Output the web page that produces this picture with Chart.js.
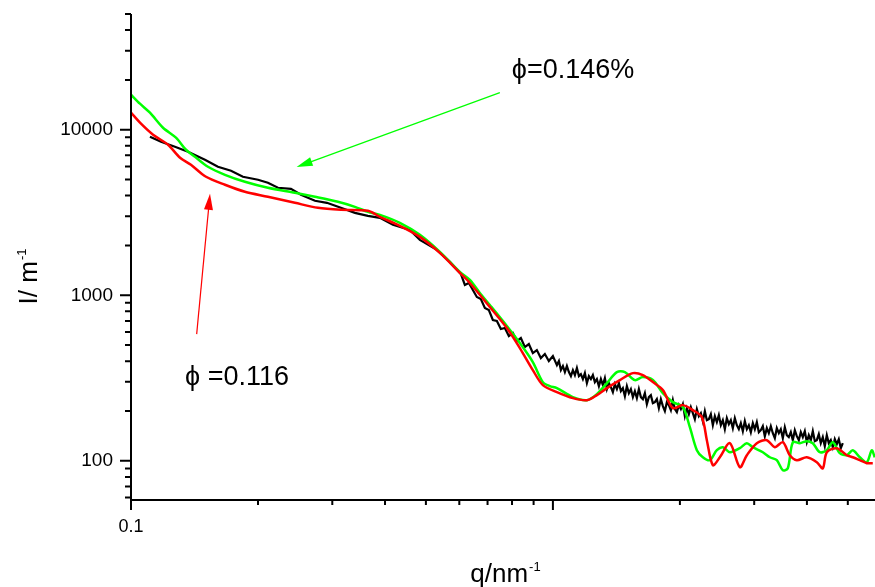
<!DOCTYPE html>
<html><head><meta charset="utf-8">
<script src="https://cdn.jsdelivr.net/npm/chart.js@4"></script>
<style>html,body{margin:0;padding:0;background:#fff}#wrap{width:875px;height:587px}</style>
</head><body><div id="wrap"><canvas id="c" width="875" height="587"></canvas></div>
<script>
// ---- data (q in nm^-1, I in m^-1) ----
const blackQ = [0.1109,0.1178,0.1271,0.1365,0.1497,0.1607,0.1726,0.1842,0.2,0.2111,0.223,0.2394,0.2528,0.2729,0.2913,0.3144,0.3394,0.3643,0.389,0.4176,0.4582,0.4838,0.5309,0.5699,
 0.6051,0.6185,0.6321,0.6461,0.6603,0.6749,0.6898,0.7050,0.7206,0.7365,
 0.7527,0.7693,0.7863,0.8036,0.8214,0.8395,0.8580,0.8769,0.8962,0.9161,
 0.9363,0.9570,0.9780,1.0000,
 1.0221,1.0333,1.0446,1.0561,1.0676,1.0793,1.0912,1.1032,1.1153,1.1275,1.1399,1.1524,1.1650,1.1778,1.1907,1.2038,1.2170,1.2304,1.2438,1.2574,
 1.2713,1.2852,1.2993,1.3136,1.3280,1.3426,1.3573,1.3722,1.3872,1.4024,1.4179,1.4335,1.4491,1.4650,1.4811,1.4973,1.5138,1.5304,1.5472,1.5642,
 1.5813,1.5986,1.6162,1.6339,1.6518,1.6699,1.6883,1.7068,1.7255,1.7444,1.7636,1.7829,1.8025,1.8223,1.8423,1.8625,1.8829,1.9036,1.9245,1.9456,
 1.9669,1.9885,2.0103,2.0324,2.0547,2.0772,2.1000,2.1230,2.1463,2.1698,2.1937,2.2178,2.2421,2.2667,2.2915,2.3166,2.3421,2.3678,2.3938,2.4201,
 2.4466,2.4734,2.5006,2.5280,2.5557,2.5837,2.6121,2.6408,2.6697,2.6990,2.7286,2.7585,2.7888,2.8194,2.8503,2.8816,2.9132,2.9452,2.9775,3.0102,
 3.0432,3.0766,3.1103,3.1444,3.1789,3.2138,3.2491,3.2847,3.3208,3.3572,3.3941,3.4313,3.4689,3.5070,3.5454,3.5843,3.6236,3.6634,3.7036,3.7442,
 3.7853,3.8268,3.8688,3.9112,3.9542,3.9976,4.0414,4.0857,4.1306,4.1759,4.2217,4.2680,4.3148,4.3621,4.4100,4.4584,4.5073,4.5567,4.6068,4.6573,
 4.7084,4.7600,4.8123,4.8651];
const blackI = [9071,8461,7892,7361,6586,5974,5649,5196,4984,4780,4459,4397,4045,3721,3618,3375,3148,3020,2937,2664,2484,2161,1880,1591,
 1346,1155,1187,1077,977,950,837.9,814.9,709,699.2,
 625.4,634.2,567.3,591.5,529.2,551.7,486.7,507.5,447.7,466.8,
 417.6,441.5,400.5,429.4,
 378.8,400.5,353.3,373.6,343.6,373.6,343.6,325,353.3,329.6,363.3,325,334.1,311.7,338.8,294.8,325,311.7,329.6,298.9,
 311.7,282.7,311.7,286.7,316.1,271.2,294.8,278.8,260.1,290.7,271.2,294.8,263.7,275,245.9,282.7,256.4,271.2,242.6,263.7,
 239.2,271.2,242.6,235.9,256.4,220,242.6,249.4,223.1,226.2,235.9,208.1,235.9,214,199.6,226.2,217,202.4,232.6,205.2,
 196.8,217,205.2,220,186.2,208.1,191.4,211,194.1,178.6,205.2,186.2,194.1,173.7,199.6,176.1,178.6,191.4,164.2,186.2,
 171.3,188.8,164.2,176.1,155.3,181.1,166.5,176.1,157.5,181.1,164.2,155.3,168.9,151.1,173.7,155.3,164.2,149,168.9,155.3,
 171.3,149,153.2,161.9,140.9,157.5,146.9,161.9,146.9,137.1,157.5,146.9,155.3,137.1,159.7,142.9,139,149,133.3,153.2,
 140.9,133.3,149,139,151.1,129.6,142.9,133.3,151.1,131.5,133.3,144.9,127.8,139,122.6,142.9,127.8,133.3,120.9,135.2,
 126.1,135.2,119.2,127.8];

const greenQ = [0.1,0.105,0.1109,0.1191,0.1278,0.135,0.1418,0.1522,0.167,0.1862,0.2111,0.2446,0.2729,0.3093,0.3394,0.3643,0.389,0.4338,0.4838,0.5396,0.6018,0.6356,0.6712,0.7088,0.7778,0.8349,0.8962,0.9466,0.9833,1.022,1.1153,1.2038,1.2713,1.3426,1.4179,1.4811,1.5641,1.6339,1.7255,1.8223,1.9245,2.0324,2.1115,2.1937,2.2667,2.3549,2.4466,2.528,2.6264,2.7737,2.8816,2.9775,3.1445,3.2669,3.394,3.507,3.6039,3.7036,3.8478,3.9976,4.1306,4.2914,4.4584,4.6068,4.7861,4.9724,5.1378,5.3378,5.5457,5.6989,5.79];
const greenI = [16279,14360,12670,10280,8950,7569,6866,5974,5343,4847,4459,4158,3934,3669,3422,3192,3062,2739,2317,1828,1384,1238,1033,873.7,652.1,514.6,394.9,298.9,282.7,275,242.5,232.6,252.9,294.8,343.6,343.6,307.4,320.5,307.4,256.4,226.2,211,159.7,115.9,105.1,100.9,115.9,120.9,112.7,119.2,127.8,120.9,112.7,105.1,100.9,87.7,90.2,129.6,127.8,131.5,127.8,112.7,115.9,129.6,111.2,108.1,115.9,105.1,98.1,115.9,105.1];

const redQ = [0.1,0.1056,0.1128,0.1224,0.1307,0.1387,0.1506,0.167,0.1862,0.2111,0.2446,0.2774,0.3144,0.3643,0.389,0.4338,0.4838,0.5396,0.6018,0.6356,0.7088,0.7778,0.8349,0.8962,0.9466,1.022,1.1153,1.2038,1.2713,1.3426,1.4413,1.5472,1.6339,1.7255,1.8223,1.9245,2.0324,2.1463,2.2543,2.3167,2.3938,2.4869,2.6264,2.7737,2.8816,3.0432,3.2138,3.3572,3.507,3.6435,3.7853,3.9976,4.2217,4.3622,4.4584,4.7084,4.9724,5.1378,5.3378,5.5457,5.7301];
const redI = [12670,10872,9327,8115,6771,6143,5196,4649,4217,3934,3618,3375,3282,3237,2978,2627,2253,1803,1365,1187,849.7,634.2,480,353.3,286.7,260.1,239.2,232.6,249.4,275,307.4,338.8,329.6,298.9,267.4,208.1,217,202.4,183.6,133.3,94.1,105.1,127.8,91.5,108.1,127.8,133.3,120.9,129.6,108.1,100.9,105.1,98.1,90.2,112.7,119.2,108.1,105.1,100.9,96.8,96.8];

// ---- ticks ----
const xMajorTicks = [0.1, 1];
const xTickLabels = ['0.1', ''];
const xMinorTicks = [0.2,0.3,0.4,0.5,0.6,0.7,0.8,0.9,2,3,4,5];
const yMajorTicks = [100, 1000, 10000];
const yTickLabels = ['100', '1000', '10000'];
const yMinorTicks = [60,70,80,90,200,300,400,500,600,700,800,900,2000,3000,4000,5000,6000,7000,8000,9000,20000,30000,40000,50000];

// ---- annotations (data coordinates) ----
const annotationTexts = ['\u03D5=0.146%', '\u03D5 =0.116'];
const annotationQ = [0.7992, 0.1343];
const annotationI = [20630, 287];
const arrowFromQ = [0.7486, 0.1431];
const arrowFromI = [16740, 583];
const arrowToQ = [0.2469, 0.1539];
const arrowToI = [5950, 4100];
const arrowColors = ['#00ff00', '#ff0000'];

const FONT = '"Liberation Sans", Arial, Helvetica, sans-serif';
const pairs = (qs, is) => qs.map((q, i) => ({x: q, y: is[i]}));

function supText(ctx, base, sup, size, supSize, rise) {
  ctx.font = size + 'px ' + FONT;
  const w1 = ctx.measureText(base).width;
  ctx.font = supSize + 'px ' + FONT;
  const w2 = ctx.measureText(sup).width;
  const start = -(w1 + w2) / 2;
  ctx.textAlign = 'left';
  ctx.textBaseline = 'alphabetic';
  ctx.font = size + 'px ' + FONT;
  ctx.fillText(base, start, 0);
  ctx.font = supSize + 'px ' + FONT;
  ctx.fillText(sup, start + w1 + 1, -rise);
}

const decor = {
  id: 'decor',
  afterDraw(chart) {
    const {ctx, chartArea: a, scales: {x, y}} = chart;
    ctx.save();
    ctx.strokeStyle = '#000';
    ctx.lineWidth = 2;
    ctx.lineCap = 'butt';
    ctx.beginPath();
    ctx.moveTo(a.left, a.top); ctx.lineTo(a.left, a.bottom + 1);
    ctx.moveTo(a.left - 1, a.bottom); ctx.lineTo(a.right, a.bottom);
    xMajorTicks.forEach(v => { const p = x.getPixelForValue(v); ctx.moveTo(p, a.bottom); ctx.lineTo(p, a.bottom + 10); });
    xMinorTicks.forEach(v => { const p = x.getPixelForValue(v); ctx.moveTo(p, a.bottom); ctx.lineTo(p, a.bottom + 5); });
    yMajorTicks.forEach(v => { const p = y.getPixelForValue(v); ctx.moveTo(a.left, p); ctx.lineTo(a.left - 11, p); });
    yMinorTicks.forEach(v => { const p = y.getPixelForValue(v); ctx.moveTo(a.left, p); ctx.lineTo(a.left - 6, p); });
    ctx.stroke();

    // arrows
    for (let i = 0; i < arrowFromQ.length; i++) {
      const x0 = x.getPixelForValue(arrowFromQ[i]), y0 = y.getPixelForValue(arrowFromI[i]);
      const x1 = x.getPixelForValue(arrowToQ[i]), y1 = y.getPixelForValue(arrowToI[i]);
      const ang = Math.atan2(y1 - y0, x1 - x0), L = 16, W = 4.5;
      const c = Math.cos(ang), s = Math.sin(ang);
      ctx.strokeStyle = arrowColors[i]; ctx.fillStyle = arrowColors[i]; ctx.lineWidth = 1.2;
      ctx.beginPath(); ctx.moveTo(x0, y0); ctx.lineTo(x1 - L * c * 0.8, y1 - L * s * 0.8); ctx.stroke();
      ctx.beginPath();
      ctx.moveTo(x1, y1);
      ctx.lineTo(x1 - L * c + W * s, y1 - L * s - W * c);
      ctx.lineTo(x1 - L * c - W * s, y1 - L * s + W * c);
      ctx.closePath(); ctx.fill();
    }

    // annotation texts
    ctx.fillStyle = '#000';
    ctx.font = '27px ' + FONT;
    ctx.textAlign = 'left'; ctx.textBaseline = 'alphabetic';
    annotationTexts.forEach((t, i) => {
      ctx.fillText(t, x.getPixelForValue(annotationQ[i]), y.getPixelForValue(annotationI[i]));
    });

    // axis titles
    ctx.save();
    ctx.translate((a.left + a.right) / 2 + 2, 582);
    supText(ctx, 'q/nm', '-1', 26, 13, 11);
    ctx.restore();
    ctx.save();
    ctx.translate(37, (a.top + a.bottom) / 2 + 20);
    ctx.rotate(-Math.PI / 2);
    supText(ctx, 'I/ m', '-1', 26, 13, 11);
    ctx.restore();
    ctx.restore();
  }
};

const line = (label, qs, is, color, tension, width) => ({
  label, data: pairs(qs, is), borderColor: color, backgroundColor: color,
  borderWidth: width, pointRadius: 0, tension, fill: false
});

new Chart(document.getElementById('c'), {
  type: 'line',
  data: {
    datasets: [
      line('phi=0.116', redQ, redI, '#ff0000', 0.3, 2.5),
      line('phi=0.146%', greenQ, greenI, '#00ff00', 0.3, 2.5),
      line('data', blackQ, blackI, '#000000', 0, 2.2)
    ]
  },
  options: {
    responsive: false, animation: false, devicePixelRatio: 1,
    layout: {padding: {top: 14, right: 0, left: 0, bottom: 0}},
    plugins: {legend: {display: false}, tooltip: {enabled: false}, title: {display: false}},
    scales: {
      x: {
        type: 'logarithmic', min: 0.1, max: 5.8,
        grid: {display: false, drawTicks: false}, border: {display: false},
        ticks: {autoSkip: false, maxRotation: 0, padding: 16, color: '#000', font: {family: FONT, size: 18},
          callback: (v) => { const i = xMajorTicks.indexOf(v); return i >= 0 ? xTickLabels[i] : ''; }},
        afterBuildTicks: (s) => { s.ticks = xMajorTicks.concat(xMinorTicks).sort((a, b) => a - b).map(v => ({value: v})); },
        afterFit: (s) => { s.height = 87; s.paddingLeft = 0; s.paddingRight = 0; }
      },
      y: {
        type: 'logarithmic', min: 58, max: 50000,
        grid: {display: false, drawTicks: false}, border: {display: false},
        ticks: {autoSkip: false, padding: 18, color: '#000', font: {family: FONT, size: 19},
          callback: (v) => { const i = yMajorTicks.indexOf(v); return i >= 0 ? yTickLabels[i] : ''; }},
        afterBuildTicks: (s) => { s.ticks = yMajorTicks.concat(yMinorTicks).sort((a, b) => a - b).map(v => ({value: v})); },
        afterFit: (s) => { s.width = 131; s.paddingTop = 0; s.paddingBottom = 0; }
      }
    }
  },
  plugins: [decor]
});
</script></body></html>
